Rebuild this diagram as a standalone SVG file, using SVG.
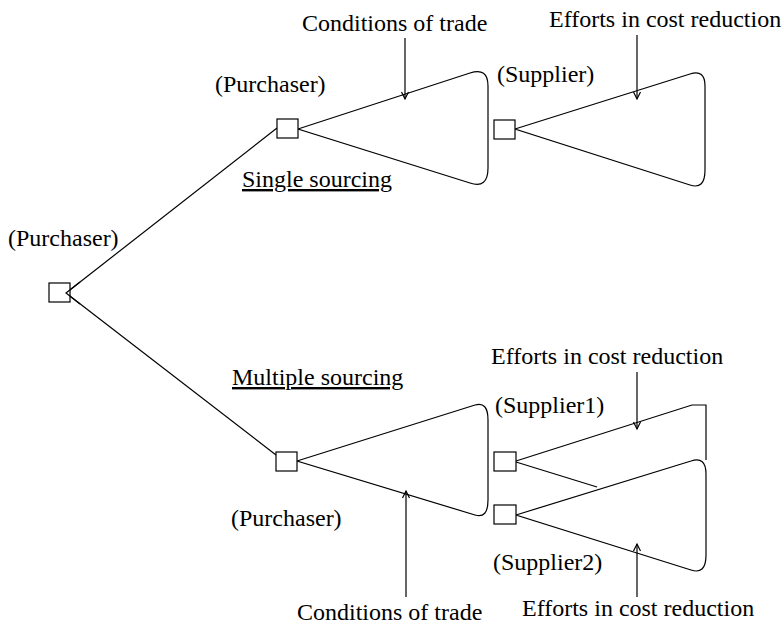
<svg xmlns="http://www.w3.org/2000/svg" width="784" height="628" viewBox="0 0 784 628">
<style>
  .t { font-family: 'Liberation Serif', 'Times New Roman', Times, 'DejaVu Serif', serif; font-size: 24px; fill: #000; }
  .box { fill: #fff; stroke: #000; stroke-width: 1.2; }
  .ln { fill: none; stroke: #000; stroke-width: 1.2; }
  .arr { fill: none; stroke: #000; stroke-width: 1.2; marker-end: url(#ah); }
</style>
<defs>
  <marker id="ah" markerUnits="userSpaceOnUse" markerWidth="12" markerHeight="12" refX="0" refY="0" viewBox="-10 -6 12 12" orient="auto">
    <path d="M-7,-3.5 L0,0 L-7,3.5" fill="none" stroke="#000" stroke-width="1.2"/>
  </marker>
</defs>
<rect width="784" height="628" fill="#fff"/>

<g id="connectors">
  <path class="ln" d="M66,293 L277,128"/>
  <path class="ln" d="M66,293 L276,455"/>
  <path class="ln" d="M298,129 L470,73 Q488,67 488,86 L488,168 Q488,189 470,183 Z"/>
  <path class="ln" d="M515,129 L690,74 Q705,69 705,86 L705,170 Q705,190 690,185 Z"/>
  <path class="ln" d="M297,461 L475,405 Q488,401 488,420 L488,500 Q488,519 475,515 Z"/>
  <path class="ln" d="M516,461 L692,405 L706,405 L706,460"/>
  <path class="ln" d="M516,462 L597,487"/>
  <path class="ln" d="M516,515 L691,461 Q706,456 706,474 L706,555 Q706,575 691,570 Z"/>
  <line class="arr" x1="405" y1="38" x2="405" y2="99"/>
  <line class="arr" x1="637" y1="35" x2="637" y2="99"/>
  <line class="arr" x1="637" y1="372" x2="637" y2="429"/>
  <line class="arr" x1="406" y1="597" x2="406" y2="491"/>
  <line class="arr" x1="637" y1="597" x2="637" y2="544"/>
</g>

<g id="root">
  <rect class="box" x="49" y="283" width="21" height="19"/>
  <path class="ln" d="M80,282 L66,293 L80,304"/>
  <text class="t" font-family="Liberation Serif" x="8" y="246">(Purchaser)</text>
</g>

<g id="purchaser-single">
  <rect class="box" x="277" y="119" width="21" height="19"/>
  <text class="t" font-family="Liberation Serif" x="215" y="92">(Purchaser)</text>
</g>

<g id="supplier-single">
  <rect class="box" x="494" y="120" width="21" height="19"/>
  <text class="t" font-family="Liberation Serif" x="497" y="82">(Supplier)</text>
</g>

<g id="purchaser-multiple">
  <rect class="box" x="276" y="452" width="21" height="19"/>
  <text class="t" font-family="Liberation Serif" x="231" y="526">(Purchaser)</text>
</g>

<g id="supplier1">
  <rect class="box" x="494" y="452" width="22" height="19"/>
  <text class="t" font-family="Liberation Serif" x="495" y="413">(Supplier1)</text>
</g>

<g id="supplier2">
  <rect class="box" x="494" y="505" width="22" height="19"/>
  <text class="t" font-family="Liberation Serif" x="493" y="570">(Supplier2)</text>
</g>

<g id="labels">
  <text class="t" font-family="Liberation Serif" x="302" y="31">Conditions of trade</text>
  <text class="t" font-family="Liberation Serif" x="549" y="27">Efforts in cost reduction</text>
  <text class="t" font-family="Liberation Serif" x="242" y="187" text-decoration="underline">Single sourcing</text>
  <text class="t" font-family="Liberation Serif" x="232" y="385" text-decoration="underline">Multiple sourcing</text>
  <text class="t" font-family="Liberation Serif" x="491" y="364">Efforts in cost reduction</text>
  <text class="t" font-family="Liberation Serif" x="297" y="620">Conditions of trade</text>
  <text class="t" font-family="Liberation Serif" x="522" y="616">Efforts in cost reduction</text>
</g>
</svg>
